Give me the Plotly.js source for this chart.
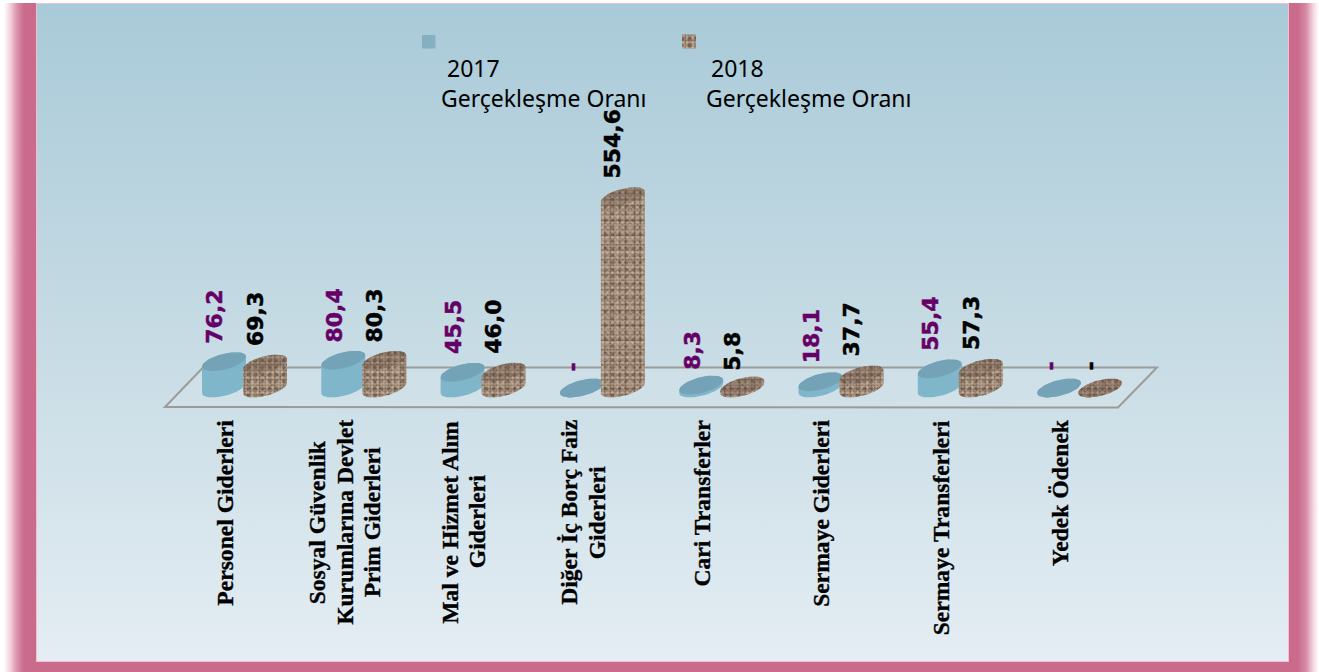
<!DOCTYPE html>
<html lang="tr"><head><meta charset="utf-8">
<script src="https://cdn.plot.ly/plotly-3.0.1.min.js"></script>
<style>
html,body{margin:0;padding:0;width:1319px;height:672px;overflow:hidden;background:#fff}
#frame{position:absolute;left:0;top:3px;width:1319px;height:669px;
 background:linear-gradient(90deg,#fff 0,#fff 4px,#f3d3de 10px,#d78aa6 18px,#cb6b8c 24px,#cb6b8c 1298px,#d78aa6 1306px,#f3d3de 1313px,#fff 1319px)}
#panel{position:absolute;left:36px;top:3px;width:1251px;height:657px;border:1.5px solid #f2bfd0;
 background:linear-gradient(180deg,#a9cad8 0%,#c6dbe4 50%,#e4edf3 100%)}
#chart{position:absolute;left:0;top:0;width:1319px;height:672px}
#chart .scatterlayer{filter:blur(0.7px)}
#chart .annotation-text[style*="rgb(102, 0, 102)"]{stroke:#660066;stroke-width:0.5px}
#chart .annotation-text[style*="DejaVu"][style*="rgb(0, 0, 0)"]{stroke:#000;stroke-width:0.5px}
#chart .annotation-text[style*="Liberation"]{stroke:#000;stroke-width:0.35px}
</style></head><body>
<div id="frame"></div><div id="panel"></div><div id="chart"></div>
<script>
const categories=['Personel Giderleri','Sosyal Güvenlik<br>Kurumlarına Devlet<br>Prim Giderleri','Mal ve Hizmet Alım<br>Giderleri','Diğer İç Borç Faiz<br>Giderleri','Cari Transferler','Sermaye Giderleri','Sermaye Transferleri','Yedek Ödenek'];
const values2017=[76.2,80.4,45.5,null,8.3,18.1,55.4,null];
const values2018=[69.3,80.3,46.0,554.6,5.8,37.7,57.3,null];
const legendYears=['2017','2018'];
const legendLine='Gerçekleşme Oranı';

const W=1319,H=672;
const PX_X=119.3,PX_Y=0.345,X0=224,Y0=388,OFFSET=41/PX_X;
const xRange=[-X0/PX_X,(W-X0)/PX_X];
const yRange=[(Y0-H)/PX_Y,Y0/PX_Y];
const A=22/PX_X,K=5/PX_Y,B=8/PX_Y;
const pt=(xc,v,t)=>[xc+A*Math.cos(t),v+K*Math.cos(t)+B*Math.sin(t)];
function body(xc,v){const o=[];
 for(let i=0;i<=24;i++)o.push(pt(xc,v,Math.PI*i/24));
 for(let i=0;i<=24;i++)o.push(pt(xc,0,Math.PI+Math.PI*i/24));
 o.push(o[0]);return o;}
function cap(xc,v){const o=[];for(let i=0;i<=48;i++)o.push(pt(xc,v,2*Math.PI*i/48));return o;}
function polys(fn,vals,off){const x=[],y=[];vals.forEach((v,i)=>{fn(i+off,v||0).forEach(p=>{x.push(p[0]);y.push(p[1]);});x.push(null);y.push(null);});return {x,y};}
const poly=(d,extra,name)=>Object.assign({type:'scatter',mode:'lines',x:d.x,y:d.y,fill:'toself',line:{width:0,color:'rgba(0,0,0,0)'},hoverinfo:'skip',showlegend:false,name:name||''},extra);
const pxX=p=>(p-X0)/PX_X,pxY=p=>(Y0-p)/PX_Y;
function swatch(l,t,s){return {x:[pxX(l),pxX(l+s),pxX(l+s),pxX(l),pxX(l)],y:[pxY(t),pxY(t),pxY(t+s),pxY(t+s),pxY(t)]};}

const clear='rgba(0,0,0,0)';
const grains=[
 {shape:'.',size:3,solidity:0.35,fgcolor:'#7a6454',bgcolor:'#a38e7b',fillmode:'replace'},
 {shape:'.',size:5,solidity:0.28,fgcolor:'#d2c2b2',bgcolor:clear,fgopacity:0.55,fillmode:'replace'},
 {shape:'.',size:7,solidity:0.25,fgcolor:'#54402f',bgcolor:clear,fgopacity:0.5,fillmode:'replace'},
 {shape:'.',size:13,solidity:0.25,fgcolor:'#cdb9a8',bgcolor:clear,fgopacity:0.3,fillmode:'replace'}
];

const b17=polys(body,values2017,0),c17=polys(cap,values2017,0);
const b18=polys(body,values2018,OFFSET),c18=polys(cap,values2018,OFFSET);
const sw18=swatch(682,34.5,14);
const data=[
 poly(b17,{fillcolor:'#80b6c9'},'2017 Gerçekleşme Oranı'),
 poly(c17,{fillcolor:'#74a3b8'}),
 poly(swatch(422,35,13.5),{fillcolor:'#86b0c2'})
];
grains.forEach(g=>data.push(poly(b18,{fillcolor:clear,fillpattern:g},'2018 Gerçekleşme Oranı')));
data.push(poly(c18,{fillcolor:'rgba(92,72,60,0.28)'}));
grains.forEach(g=>data.push(poly(sw18,{fillcolor:clear,fillpattern:g})));

const fmt=v=>v==null?'-':v.toFixed(1).replace('.',',');
const ann=[];
const LABEL={size:22,family:'"DejaVu Sans",sans-serif'};
const shiftFor=v=>v==null?16:(v<10?14:17);
values2017.forEach((v,i)=>ann.push({x:i,y:v||0,yshift:shiftFor(v),xshift:-9,text:fmt(v),textangle:-90,showarrow:false,yanchor:'bottom',xanchor:'center',borderpad:0,
  font:Object.assign({color:'#660066',weight:'bold'},LABEL)}));
values2018.forEach((v,i)=>ann.push({x:i+OFFSET,y:v||0,yshift:shiftFor(v),xshift:-10,text:fmt(v),textangle:-90,showarrow:false,yanchor:'bottom',xanchor:'center',borderpad:0,
  font:Object.assign({color:'#000',weight:'bold'},LABEL)}));

const CAT_SIZE=23.6,CAT_LINE=27.5,CAT_TOP=420;
const ctx=document.createElement('canvas').getContext('2d');
ctx.font='bold '+CAT_SIZE+'px "Liberation Serif"';
categories.forEach((c,i)=>{
 const lines=c.split('<br>');
 const longest=Math.max(...lines.map(l=>ctx.measureText(l).width));
 lines.forEach((ln,j)=>ann.push({x:i,y:pxY(CAT_TOP+longest/2),text:ln,textangle:-90,showarrow:false,yanchor:'middle',xanchor:'center',borderpad:0,
   xshift:1+(j-(lines.length-1)/2)*CAT_LINE,
   font:{family:'"Liberation Serif",serif',size:CAT_SIZE,color:'#000',weight:'bold'}}));
});
const LEG={family:'"Noto Sans",sans-serif',size:23,color:'#000'};
legendYears.forEach((t,i)=>{
 const dx=i*265;
 ann.push({xref:'paper',yref:'paper',x:(473+dx)/W,y:1-68/H,text:t,showarrow:false,xanchor:'center',yanchor:'middle',font:LEG});
 ann.push({xref:'paper',yref:'paper',x:(543+dx)/W,y:1-98/H,text:legendLine,showarrow:false,xanchor:'center',yanchor:'middle',font:LEG});
});
const shapes=[{type:'path',xref:'paper',yref:'paper',
 path:'M '+165/W+' '+(1-407/H)+' L '+1118/W+' '+(1-407.5/H)+' L '+1157/W+' '+(1-367.5/H)+' L '+203/W+' '+(1-367.5/H)+' Z',
 line:{color:'#9b9b98',width:2},fillcolor:'rgba(255,255,255,0.08)',layer:'below'}];
Plotly.newPlot('chart',data,{
 width:W,height:H,margin:{l:0,r:0,t:0,b:0,pad:0},paper_bgcolor:'rgba(0,0,0,0)',plot_bgcolor:'rgba(0,0,0,0)',showlegend:false,
 xaxis:{range:xRange,visible:false,fixedrange:true},
 yaxis:{range:yRange,visible:false,fixedrange:true},
 annotations:ann,shapes:shapes
},{displayModeBar:false,staticPlot:true});
</script></body></html>
